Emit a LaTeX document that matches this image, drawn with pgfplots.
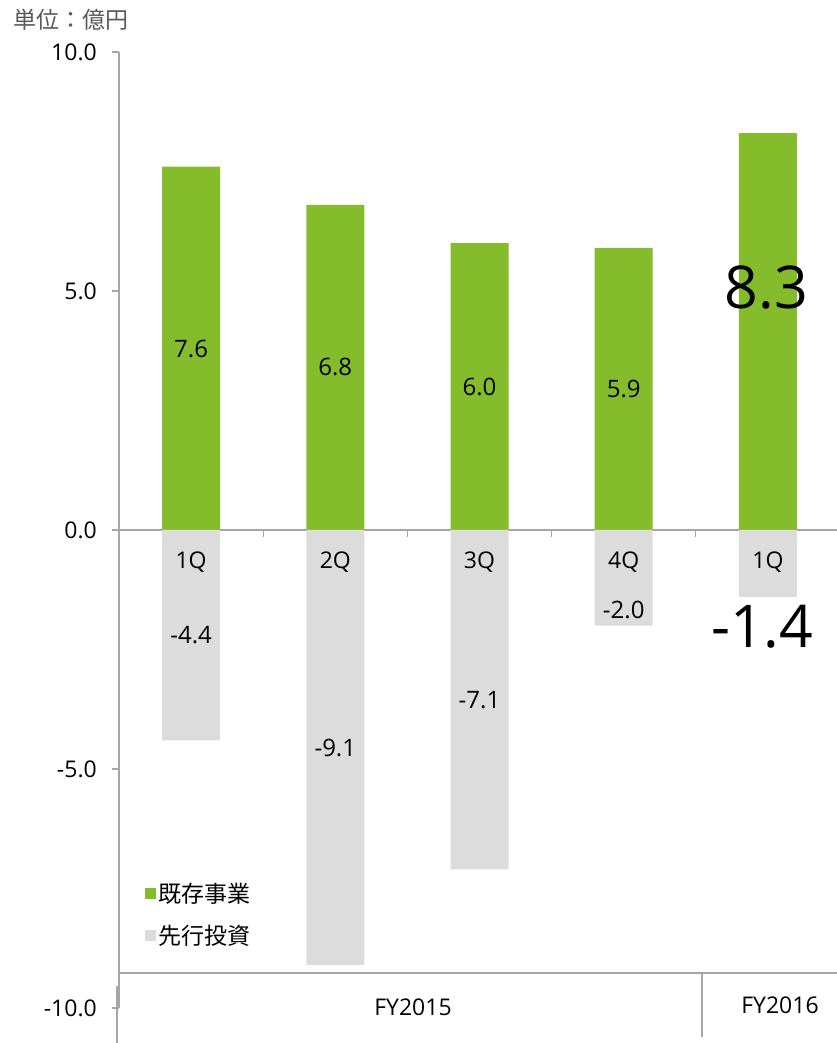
\documentclass[border=0pt]{standalone}
\usepackage{pgfplots}
\pgfplotsset{compat=1.18}
\usepackage{fontspec}
\setmainfont{Open Sans}
\newfontfamily\jp{Noto Sans CJK JP}
\definecolor{barg}{HTML}{84BC2B}
\definecolor{bargr}{HTML}{DCDCDC}
\definecolor{axg}{HTML}{A6A6A6}
\definecolor{ttl}{HTML}{595959}
\newcommand{\fs}{\fontsize{23}{27}\selectfont}
\newcommand{\fv}{\fontsize{24}{28}\selectfont}
\newcommand{\fb}{\fontsize{59}{63}\selectfont}

\begin{document}
\begin{tikzpicture}
\useasboundingbox (0,0) rectangle (837pt,1043pt);
\begin{axis}[
  at={(119pt,35pt)}, anchor=south west,
  scale only axis, width=721pt, height=956pt,
  xmin=-0.5, xmax=4.5, ymin=-10, ymax=10,
  clip=false,
  axis y line*=left, axis x line*=middle,
  axis line style={axg, line width=1.2pt},
  every tick/.style={axg, line width=1.2pt},
  major tick length=7pt,
  tick align=outside,
  ytick={-10,-5,0,5,10},
  yticklabels={-10.0,-5.0,0.0,5.0,10.0},
  yticklabel style={font=\fs, anchor=east, inner sep=0pt, xshift=-15pt},
  xtick={0.5,1.5,2.5,3.5},
  xticklabels={},
  legend style={at={(0.036,0.133)}, anchor=north west, draw=none, fill=none,
    font=\jp\fs, row sep=17pt, inner sep=0pt},
  legend cell align=left,
  legend image code/.code={\fill[#1] (-12pt,-5.5pt) rectangle (-1pt,5.5pt);},
]
\addplot[ybar, bar width=58pt, bar shift=0pt, fill=barg, draw=none]
  coordinates {(0,7.6) (1,6.8) (2,6.0) (3,5.9) (4,8.3)};
\addlegendentry{既存事業}
\addplot[ybar, bar width=58pt, bar shift=0pt, fill=bargr, draw=none]
  coordinates {(0,-4.4) (1,-9.1) (2,-7.1) (3,-2.0) (4,-1.4)};
\addlegendentry{先行投資}

\node[font=\fs] at ([yshift=-32pt]axis cs:0,0) {1Q};
\node[font=\fs] at ([yshift=-32pt]axis cs:1,0) {2Q};
\node[font=\fs] at ([yshift=-32pt]axis cs:2,0) {3Q};
\node[font=\fs] at ([yshift=-32pt]axis cs:3,0) {4Q};
\node[font=\fs] at ([yshift=-32pt]axis cs:4,0) {1Q};

\node[font=\fv] at (axis cs:0,3.79) {7.6};
\node[font=\fv] at (axis cs:1,3.40) {6.8};
\node[font=\fv] at (axis cs:2,3.00) {6.0};
\node[font=\fv] at (axis cs:3,2.95) {5.9};
\node[font=\fb] at (axis cs:3.99,5.08) {8.3};
\node[font=\fv] at (axis cs:0,-2.20) {-4.4};
\node[font=\fv] at (axis cs:1,-4.56) {-9.1};
\node[font=\fv] at (axis cs:2,-3.56) {-7.1};
\node[font=\fv] at (axis cs:3,-1.67) {-2.0};
\node[font=\fb] at (axis cs:3.96,-2.03) {-1.4};
\end{axis}
\draw[axg, line width=1.2pt] (119pt,70pt) -- (837pt,70pt);
\draw[axg, line width=1.2pt] (702pt,70pt) -- (702pt,6pt);
\draw[axg, line width=1.2pt] (117pt,57pt) -- (117pt,0pt);
\node[font=\fs] at (413pt,36pt) {FY2015};
\node[font=\fs] at (780pt,38pt) {FY2016};
\node[anchor=west, text=ttl, font=\jp\fs, inner sep=0pt] at (13pt,1023pt) {単位：億円};
\end{tikzpicture}
\end{document}
